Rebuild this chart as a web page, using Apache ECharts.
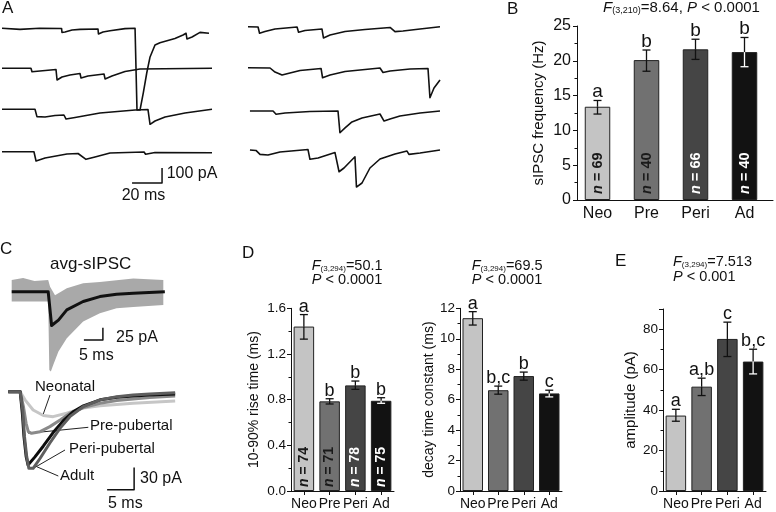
<!DOCTYPE html>
<html><head><meta charset="utf-8">
<script src="https://cdn.jsdelivr.net/npm/echarts@6/dist/echarts.min.js"></script>
<style>html,body{margin:0;padding:0;background:#fff}#c{width:776px;height:512px}</style>
</head><body><div id="c"></div>
<script>
const FONT = "'Liberation Sans', Arial, sans-serif";

// ---------- bar-chart data ----------
const groups = ['Neo', 'Pre', 'Peri', 'Ad'];
const barColors = ['#c4c4c4', '#717171', '#454545', '#121212'];
const nLabelColors = ['#1a1a1a', '#1a1a1a', '#ffffff', '#ffffff'];
const errInsideColors = ['#111', '#111', '#111', '#fff'];

// B: sIPSC frequency (Hz)
const freqMean = [13.4, 20.1, 21.65, 21.25];
const freqLo = [12.35, 18.5, 20.2, 19.15];
const freqHi = [14.3, 21.55, 23.1, 23.35];
const freqN = [69, 40, 66, 40];
const freqLetters = ['a', 'b', 'b', 'b'];

// D left: 10-90% rise time (ms)
const riseMean = [1.44, 0.785, 0.925, 0.79];
const riseLo = [1.33, 0.762, 0.89, 0.768];
const riseHi = [1.545, 0.808, 0.963, 0.817];
const riseN = [74, 71, 78, 75];
const riseLetters = ['a', 'b', 'b', 'b'];

// D right: decay time constant (ms)
const decayMean = [11.35, 6.62, 7.55, 6.41];
const decayLo = [10.9, 6.36, 7.28, 6.18];
const decayHi = [11.78, 6.89, 7.81, 6.62];
const decayLetters = ['a', 'b,c', 'b', 'c'];

// E: amplitude (pA)
const ampMean = [37.3, 51.6, 75.2, 64.0];
const ampLo = [34.5, 47.2, 66.5, 57.9];
const ampHi = [40.4, 55.8, 83.5, 70.1];
const ampLetters = ['a', 'a,b', 'c', 'b,c'];

// ---------- panel A traces: [time ms, current pA] ----------
const traceL1 = [[0,0],[12,-7],[25,0],[39.7,-1],[40,-27],[42,-25],[46.7,-11],[52,-7],[64,-5],[64.3,-38],[67.3,-25],[72,-16],[82,-2],[88.7,0],[90,-545],[92,-545],[94.2,-431],[96.5,-298],[98.7,-191],[102,-111],[105.3,-96],[110,-83],[115.3,-68],[120.7,-45],[122.7,-33],[123.3,-71],[126.7,-58],[132,-27],[138,-33]];
const traceL2 = [[0,0],[19.3,0],[20,-23],[25.3,-18],[36,-8],[36.7,-78],[40,-58],[45.3,-45],[52,-35],[52.7,-65],[57.3,-51],[68,-38],[68.7,-71],[73.3,-51],[82,-21],[92,-5],[140,0]];
const traceL3 = [[0,0],[22,0],[23.3,-49],[28.7,-51],[35.3,-41],[41.3,-38],[42.7,-65],[48.7,-55],[65.3,-25],[88.7,-5],[97.3,-1],[98.7,-100],[102,-78],[108.7,-51],[122,-25],[140,0]];
const traceL4 = [[0,0],[21.3,0],[22.7,-62],[28.7,-42],[43.3,-15],[50.7,-12],[56,-51],[62,-35],[72,-9],[94.7,-2],[95.7,-17],[102,-5],[140,-7]];
const traceR1 = [[0,0],[6.7,-2],[7.7,-44],[11.3,-32],[18,-15],[32.7,-2],[33.7,-37],[38,-25],[49.3,-15],[50.3,-75],[54.7,-55],[64.7,-32],[78,-19],[94.7,-5],[98,-33],[103.3,-29],[114.7,-15],[128,0]];
const traceR2 = [[0,0],[14.7,-2],[18,-29],[22.7,-49],[28,-35],[34.7,-19],[48.7,-5],[49.7,-67],[54.7,-49],[64.7,-25],[88,-2],[90,-32],[94.7,-22],[108,-9],[120,-5],[121.3,-200],[124,-135],[128,-82]];
const traceR3 = [[1.3,0],[16.7,0],[18.7,-22],[24.7,-13],[41.3,-3],[60,0],[61.3,-145],[64.7,-113],[69.3,-73],[76,-47],[88,-20],[89.3,-13],[90.7,-67],[94.7,-53],[101.3,-33],[114.7,-13],[128,0]];
const traceR4 = [[1.3,0],[5.3,-3],[8,-29],[13.3,-33],[21.3,-13],[40,3],[41.3,-62],[46.7,-53],[58,-17],[59.3,-13],[60.7,-145],[64,-120],[71.3,-45],[72.3,-247],[76,-220],[81.3,-120],[88,-60],[98,-27],[106,-7],[107.3,-29],[114.7,-20],[128,0]];
const scaleA = [20, 100]; // ms, pA

// ---------- panel C traces ----------
const avgTrace = [[0,0],[9.6,0],[10.5,-69],[12.3,-58],[14.5,-37],[18.8,-20],[23.2,-10],[27.6,-5],[32,-3],[40.3,0]];
const bandUpper = [[0,24],[3,28],[6,22],[9.6,24],[10.1,10],[11.4,-7],[14.5,7],[18.8,17],[23.2,20],[32,27],[39.9,24]];
const bandLower = [[0,-20],[9.6,-20],[9.9,-160],[10.3,-163],[10.9,-150],[12.3,-122],[14.5,-95],[18.8,-61],[23.2,-44],[27.6,-34],[32,-31],[39.9,-27]];
const scaleCtop = [5, 25];
const neoAvg = [[0,0],[2.2,0],[3.1,-11],[4.6,-24.6],[6.5,-32],[8.3,-33.6],[10.8,-29],[13.9,-22],[17,-19],[23.1,-15.6],[30.9,-12.5]];
const preAvg = [[0,0],[2.2,0],[2.8,-20],[3.3,-42.5],[3.7,-53.8],[4.3,-56],[5.9,-53.8],[7.7,-47],[9.6,-38],[11.4,-29],[13.9,-21.5],[17,-15.6],[20.1,-12],[23.1,-9.8],[26.2,-8],[30.9,-5.8]];
const periAvg = [[0,0],[2.2,0],[2.67,-24.6],[3.0,-60.5],[3.4,-87],[3.8,-103],[4.1,-105],[4.6,-103],[5.9,-89.5],[7.7,-69],[9.6,-49],[11.4,-33.6],[13.9,-20],[17,-11],[20.1,-6.7],[23.1,-4.4],[26.2,-3.1],[30.9,-1.3]];
const adultAvg = [[0,0],[2.2,0],[2.6,-29],[2.9,-60.5],[3.3,-87],[3.65,-98.5],[4.0,-97],[4.9,-88],[6.5,-73],[8.3,-55],[10.2,-39],[12,-27],[13.9,-19],[17,-11],[20.1,-7.6],[23.1,-5.8],[26.2,-4.5],[30.9,-3.1]];
const scaleCbot = [5, 30];

// ---------- builders ----------
const grids = [], xAxes = [], yAxes = [], series = [];

function addTraceGrid(left, top, width, height, xmin, xmax, ymin, ymax) {
  grids.push({left, top, width, height, outerBoundsMode: 'none'});
  const gi = grids.length - 1;
  xAxes.push({type: 'value', gridIndex: gi, min: xmin, max: xmax, show: false});
  yAxes.push({type: 'value', gridIndex: gi, min: ymin, max: ymax, show: false});
  return gi;
}
function lineSeries(gi, data, color, width, z) {
  series.push({type: 'line', xAxisIndex: gi, yAxisIndex: gi, data, symbol: 'none', showSymbol: false,
    lineStyle: {color, width, join: 'round'}, silent: true, z: z || 2, clip: false});
}
function scaleBar(gi, t0, i0, dims) {
  lineSeries(gi, [[t0, i0], [t0 + dims[0], i0], [t0 + dims[0], i0 + dims[1]]], '#111', 1.5, 3);
}

// Panel A (1.5 px/ms, 0.15 px/pA)
const aL = [20.8, 60.8, 101.8, 144.2], aR = [19.2, 60.2, 103.5, 142.5];
const leftTraces = [traceL1, traceL2, traceL3, traceL4];
const rightTraces = [traceR1, traceR2, traceR3, traceR4];
let g4 = -1;
leftTraces.forEach((tr, k) => {
  const g = addTraceGrid(2, aL[k], 210, 97.5, 0, 140, -600, 50);
  lineSeries(g, tr, '#111', 1.6);
  if (k === 3) g4 = g;
});
rightTraces.forEach((tr, k) => {
  const g = addTraceGrid(248, aR[k], 192, 97.5, 0, 128, -600, 50);
  lineSeries(g, tr, '#111', 1.6);
});
scaleBar(g4, 86.7, -209, scaleA);

// Panel C top (3.8 px/ms, 0.49 px/pA)
const gCt = addTraceGrid(11.7, 267.2, 152, 122.5, 0, 40, -200, 50);
series.push({type: 'custom', xAxisIndex: gCt, yAxisIndex: gCt, data: [[0, 0]], silent: true, z: 1, clip: false,
  renderItem: (params, api) => {
    const pts = bandUpper.map(p => api.coord(p)).concat(bandLower.slice().reverse().map(p => api.coord(p)));
    return {type: 'polygon', shape: {points: pts}, style: {fill: '#a9a9a9'}};
  }});
lineSeries(gCt, avgTrace, '#111', 3, 3);
scaleBar(gCt, 19.0, -98.6, scaleCtop);

// Panel C bottom (5.4 px/ms, 0.744 px/pA)
const gCb = addTraceGrid(8.3, 376.8, 172.8, 119, 0, 32, -140, 20);
lineSeries(gCb, neoAvg, '#c6c6c6', 3, 2);
lineSeries(gCb, preAvg, '#8a8a8a', 3, 2);
lineSeries(gCb, adultAvg, '#0d0d0d', 3, 2);
lineSeries(gCb, periAvg, '#5e5e5e', 3, 2);
scaleBar(gCb, 18.3, -132, scaleCbot);

// Bar panels
function makeErr(letters, letterSize, capW) {
  return function (params, api) {
    const i = api.value(0);
    const pm = api.coord([i, api.value(1)]);
    const pl = api.coord([i, api.value(2)]);
    const ph = api.coord([i, api.value(3)]);
    const x = pm[0], h = capW / 2;
    const inC = errInsideColors[params.dataIndex];
    const st = {stroke: '#111', lineWidth: 1.3};
    const st2 = {stroke: inC, lineWidth: 1.3};
    return {type: 'group', children: [
      {type: 'line', shape: {x1: x, y1: ph[1], x2: x, y2: pm[1]}, style: st},
      {type: 'line', shape: {x1: x - h, y1: ph[1], x2: x + h, y2: ph[1]}, style: st},
      {type: 'line', shape: {x1: x, y1: pm[1], x2: x, y2: pl[1]}, style: st2},
      {type: 'line', shape: {x1: x - h, y1: pl[1], x2: x + h, y2: pl[1]}, style: st2},
      {type: 'text', x: x, y: ph[1] + 1, style: {text: letters[params.dataIndex], fill: '#111',
        font: letterSize + 'px ' + FONT, align: 'center', verticalAlign: 'bottom', textAlign: 'center', textVerticalAlign: 'bottom'}}
    ]};
  };
}
function addBarPanel(p) {
  const shift = p.shift || 0;
  // frame grid: y axis + x axis line
  grids.push({left: p.left, top: p.top, width: p.width, height: p.height, outerBoundsMode: 'none'});
  const gi = grids.length - 1;
  // data grid: bars, error bars, category labels (may be offset from the frame)
  let gd = gi;
  if (shift) {
    grids.push({left: p.left + shift, top: p.top, width: p.width, height: p.height, outerBoundsMode: 'none'});
    gd = grids.length - 1;
  }
  const catLabel = {color: '#111', fontSize: p.catFont, fontFamily: FONT, margin: p.catMargin, interval: 0};
  xAxes.push({type: 'category', gridIndex: gi, data: groups, boundaryGap: true,
    axisLine: {show: true, lineStyle: {color: '#111', width: 1}},
    axisTick: {show: p.xTicks, alignWithLabel: true, length: 4, lineStyle: {color: '#111'}},
    axisLabel: shift ? {show: false} : catLabel, splitLine: {show: false}});
  const yCommon = {min: p.min, max: p.max, interval: p.interval};
  yAxes.push(Object.assign({type: 'value', gridIndex: gi,
    axisLine: {show: true, lineStyle: {color: '#111', width: 1}},
    axisTick: {show: true, length: 4, lineStyle: {color: '#111'}},
    minorTick: {show: true, splitNumber: 2, length: 2.5, lineStyle: {color: '#111'}},
    splitLine: {show: false}, minorSplitLine: {show: false},
    axisLabel: {color: '#111', fontSize: p.tickFont, fontFamily: FONT, margin: p.tickMargin, formatter: p.fmt},
    name: p.name, nameLocation: 'middle', nameGap: p.nameGap,
    nameTextStyle: {fontSize: p.nameFont, fontFamily: FONT, color: '#111'}}, yCommon));
  if (shift) {
    xAxes.push({type: 'category', gridIndex: gd, data: groups, boundaryGap: true,
      axisLine: {show: false}, axisTick: {show: false}, axisLabel: catLabel, splitLine: {show: false}});
    yAxes.push(Object.assign({type: 'value', gridIndex: gd, show: false}, yCommon));
  }
  series.push({type: 'bar', xAxisIndex: gd, yAxisIndex: gd, barWidth: p.barWidth, z: 2,
    data: p.mean.map((v, i) => ({
      value: v,
      itemStyle: {color: barColors[i], borderColor: '#222', borderWidth: 1},
      label: p.n ? {show: true, position: 'insideBottom', rotate: 90, align: 'left', verticalAlign: 'middle',
        distance: p.nDist, fontSize: p.nFont, fontWeight: 'bold', fontFamily: FONT, color: nLabelColors[i],
        formatter: '{i|n} = ' + p.n[i],
        rich: {i: {fontStyle: 'italic', fontWeight: 'bold', fontSize: p.nFont, fontFamily: FONT, color: nLabelColors[i]}}}
        : {show: false}
    }))});
  series.push({type: 'custom', xAxisIndex: gd, yAxisIndex: gd, z: 5, silent: true,
    renderItem: makeErr(p.letters, p.letterSize, p.capW),
    encode: {x: 0, y: [1, 2, 3]},
    data: p.mean.map((v, i) => [i, v, p.lo[i], p.hi[i]])});
}

addBarPanel({left: 577, top: 26, width: 196, height: 174, shift: -4, min: 0, max: 25, interval: 5,
  mean: freqMean, lo: freqLo, hi: freqHi, n: freqN, letters: freqLetters, barWidth: 25.5, capW: 8,
  xTicks: false, catFont: 16, catMargin: 6, tickFont: 16, tickMargin: 6, fmt: v => v,
  name: 'sIPSC frequency (Hz)', nameGap: 31, nameFont: 15, nFont: 14.5, nDist: 6, letterSize: 19});
addBarPanel({left: 291, top: 308.3, width: 103, height: 182.7, min: 0, max: 1.6, interval: 0.4,
  mean: riseMean, lo: riseLo, hi: riseHi, n: riseN, letters: riseLetters, barWidth: 20.5, capW: 8,
  xTicks: true, catFont: 14, catMargin: 6, tickFont: 13.5, tickMargin: 5, fmt: v => v.toFixed(1),
  name: '10-90% rise time (ms)', nameGap: 30, nameFont: 14, nFont: 14, nDist: 4, letterSize: 18});
addBarPanel({left: 460, top: 308.3, width: 102, height: 182.7, min: 0, max: 12, interval: 2,
  mean: decayMean, lo: decayLo, hi: decayHi, n: null, letters: decayLetters, barWidth: 20.5, capW: 8,
  xTicks: true, catFont: 14, catMargin: 6, tickFont: 13.5, tickMargin: 5, fmt: v => v,
  name: 'decay time constant (ms)', nameGap: 24, nameFont: 14, letterSize: 18});
addBarPanel({left: 663, top: 309, width: 103, height: 182, min: 0, max: 90, interval: 20,
  mean: ampMean, lo: ampLo, hi: ampHi, n: null, letters: ampLetters, barWidth: 20.5, capW: 8,
  xTicks: true, catFont: 14, catMargin: 6, tickFont: 13.5, tickMargin: 5, fmt: v => (v === 90 ? '' : v),
  name: 'amplitude (pA)', nameGap: 25, nameFont: 15, letterSize: 18});

// ---------- titles ----------
function richFor(size) {
  return {
    i: {fontStyle: 'italic', fontSize: size, fontFamily: FONT, color: '#111'},
    s: {fontSize: Math.round(size * 0.58), fontFamily: FONT, color: '#111', verticalAlign: 'bottom'}
  };
}
function titleItem(text, left, top, size, weight) {
  return {text, left, top, padding: 0, itemGap: 0,
    textStyle: {fontSize: size, fontFamily: FONT, color: '#111', fontWeight: weight || 'normal', rich: richFor(size)}};
}
const titles = [
  titleItem('A', 2, 0, 17), titleItem('B', 507, 1, 17), titleItem('C', 0, 241, 17),
  titleItem('D', 242, 245, 17), titleItem('E', 615, 253, 17),
  titleItem('{i|F}{s|(3,210)}=8.64, {i|P} < 0.0001', 603, 0, 15),
  titleItem('{i|F}{s|(3,294)}=50.1', 311.7, 258, 14.5),
  titleItem('{i|P} < 0.0001', 311.7, 272, 14.5),
  titleItem('{i|F}{s|(3,294)}=69.5', 471.7, 258, 14.5),
  titleItem('{i|P} < 0.0001', 471.7, 272, 14.5),
  titleItem('{i|F}{s|(3,294)}=7.513', 673, 254, 14.5),
  titleItem('{i|P} < 0.001', 673, 269, 14.5)
];

// ---------- annotations ----------
function gText(text, x, y, size) {
  return {type: 'text', x, y, silent: true, style: {text, font: size + 'px ' + FONT, fill: '#111'}};
}
function gLine(x1, y1, x2, y2) {
  return {type: 'line', silent: true, shape: {x1, y1, x2, y2}, style: {stroke: '#222', lineWidth: 1}};
}
const graphics = [
  gText('100 pA', 166.7, 166, 16), gText('20 ms', 121.7, 188, 16),
  gText('avg-sIPSC', 50, 256, 17), gText('25 pA', 116, 330, 16), gText('5 ms', 79, 348, 16),
  gText('Neonatal', 35, 379.5, 15), gText('Pre-pubertal', 90, 418, 15),
  gText('Peri-pubertal', 69, 441, 15), gText('Adult', 60, 468, 15),
  gText('30 pA', 140, 471, 16), gText('5 ms', 108, 496, 16),
  gLine(50, 395, 42.7, 415.7), gLine(88.3, 427.3, 28.3, 433.3),
  gLine(65, 450, 33.3, 468.3), gLine(58.3, 476, 36.7, 466.7)
];

const chart = echarts.init(document.getElementById('c'), null, {renderer: 'canvas'});
chart.setOption({animation: false, backgroundColor: '#fff', title: titles, grid: grids,
  xAxis: xAxes, yAxis: yAxes, series, graphic: graphics});
</script></body></html>
